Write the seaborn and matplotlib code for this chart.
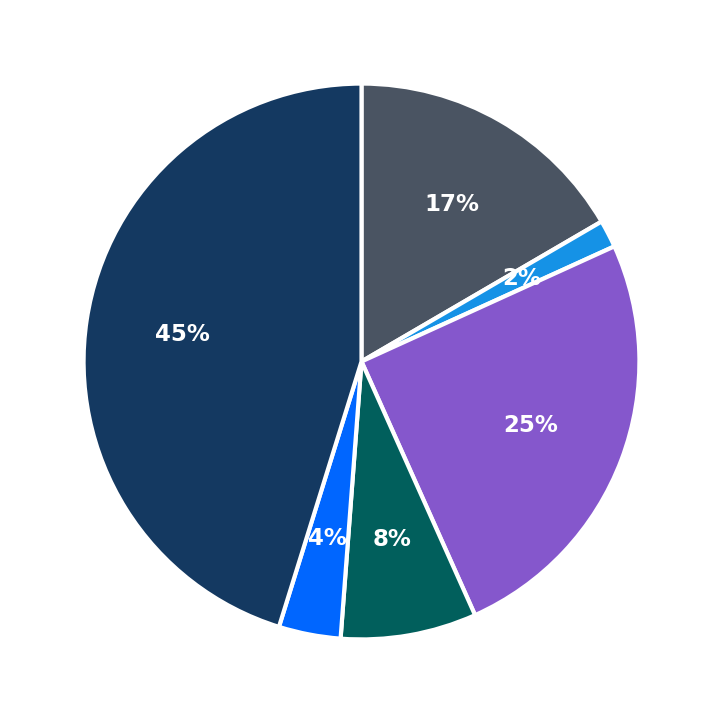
import matplotlib
matplotlib.use("Agg")
import matplotlib.pyplot as plt
import seaborn as sns

# slice values (percent), clockwise from 12 o'clock
segments = ['A', 'B', 'C', 'D', 'E', 'F']
shares = [16.6, 1.6, 25.1, 7.9, 3.6, 45.2]
slice_colors = ['#4a5462', '#1592e6', '#8557cc', '#015f5c', '#0066ff', '#143961']

sns.set_theme(style='white')
plt.rcParams['font.family'] = ['DejaVu Sans']

fig = plt.figure(figsize=(7.23, 7.23), dpi=100)
ax = fig.add_axes([0.0195, 0.0195, 0.961, 0.961])

wedges, texts, autotexts = ax.pie(
    shares,
    colors=slice_colors,
    startangle=90,
    counterclock=False,
    autopct='%.0f%%',
    pctdistance=0.65,
    wedgeprops={'edgecolor': 'white', 'linewidth': 3},
)
for t in autotexts:
    t.set_color('white')
    t.set_fontweight('bold')
    t.set_fontsize(16.5)

ax.set_aspect('equal')
fig.savefig('out.png', dpi=100, facecolor='white')
